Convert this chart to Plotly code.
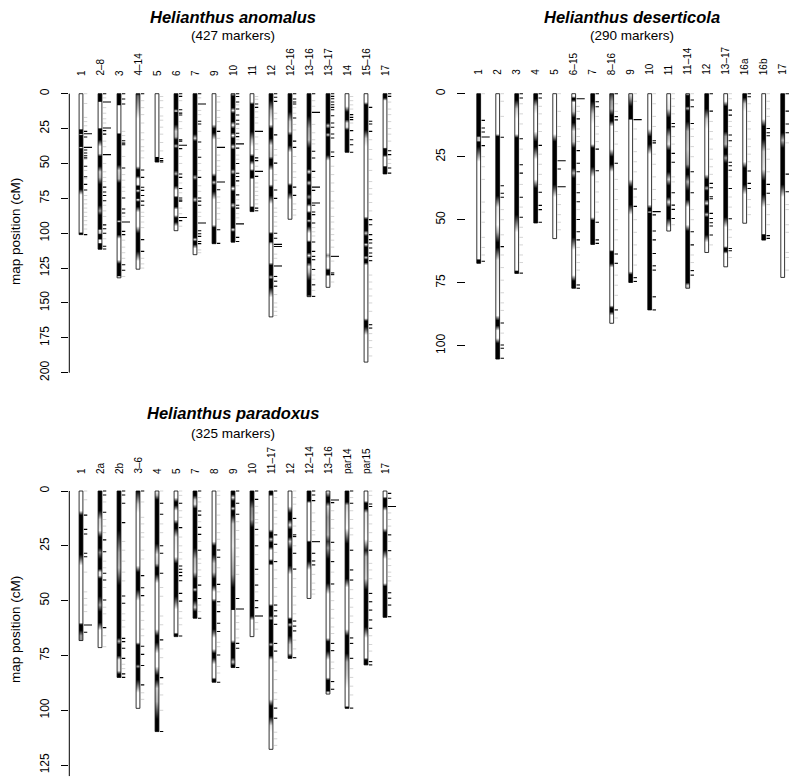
import plotly.graph_objects as go

# ================= Helianthus anomalus =================
anom_names = ["1", "2–8", "3", "4–14", "5", "6", "7", "9", "10", "11", "12", "12–16", "13–16", "13–17", "14", "15–16", "17"]
anom_lengths = [101, 111.5, 132, 125.8, 49, 98.2, 115.4, 107.5, 106.4, 84.5, 160, 90, 145.5, 138.8, 42, 192.4, 57.5]
anom_bands = [
    [[0,0],[25,0],[26,1],[28.5,1],[29.3,0.2],[30,1],[37.8,1],[38.6,0.1],[39.4,1],[68.5,1],[72.5,0],[99.3,0],[99.8,1],[101,1]],
    [[0,1],[5.5,1],[6,0],[24.5,0],[25.2,1],[33,1],[38,0],[43,0.1],[45,1],[52,1],[56,0.2],[60,0.3],[65,1],[80,1],[84,0.4],[87,1],[97,1],[98,0.1],[100,0.2],[101,1],[104,1],[105,0],[107,0],[107.5,1],[111.5,1]],
    [[0,1],[8,1],[8.6,0],[28,0],[29,1],[51,1],[55,0.2],[61,0.3],[64,1],[90.5,1],[91.5,0.1],[92.5,1],[101,1],[104,0],[119,0],[122,1],[130.5,1],[131.2,0],[132,0]],
    [[0,1],[1.5,0.6],[10,0.3],[18,0],[52,0],[54.5,1],[59,1],[61,0],[65,0],[66.5,1],[68.5,1],[69.5,0.1],[71,1],[75,1],[76,0],[77.5,1],[81,1],[85,0],[95,0],[100,1],[113,1],[120,0],[125.8,0]],
    [[0,0],[45,0],[45.5,1],[49,1]],
    [[0,1],[11,1],[12.5,0.1],[13.5,1],[22,1],[27,0.2],[31,0.3],[33,1],[36,1],[37.5,0.2],[39,1],[55,1],[57.5,0.3],[59,1],[66,1],[69,0],[73,0],[74.5,1],[81,1],[83,0],[87,0],[89,1],[92,1],[95,0],[98.2,0]],
    [[0,1],[29,1],[32,0.2],[34,1],[58,1],[60,0.3],[62,1],[74,1],[76,0.2],[78,1],[103,1],[104.5,0.2],[106,1],[108,1],[111,0],[115.4,0]],
    [[0,0],[22,0],[25,1],[28,1],[33,0],[57,0],[59.5,1],[62,1],[63.5,0.2],[65.5,1],[70,1],[76,0],[94,0],[96,1],[107.5,1]],
    [[0,0.3],[2,1],[10,1],[12,0.1],[14,1],[20,1],[22.5,0],[25,1],[28,1],[30,0],[32,1],[36,1],[38,0.1],[40,1],[54,1],[56,0.2],[58,1],[66,1],[68,0],[70,1],[78,1],[80,0.2],[82,1],[96,1],[97.5,0.1],[99,1],[106.4,1]],
    [[0,0],[6,0],[7.5,1],[27,1],[33,0.3],[38,0],[43,0],[45,1],[48,1],[51,0],[54,0],[55.5,1],[60,1],[61.5,0],[80.5,0],[81.5,1],[84.5,1]],
    [[0,1],[5,1],[12,0.3],[18,0.1],[22,0],[25,1],[32,1],[37,0.1],[45,0.2],[47,1],[51,1],[55,0],[65,0],[67,1],[73,1],[79,0],[99,0],[100.5,1],[106,1],[107.5,0.1],[109,0],[121,0],[123,1],[130,1],[131.5,0.2],[133,1],[139,1],[146,0],[160,0]],
    [[0,1],[13,1],[20,0.2],[27,0.1],[30,1],[37,1],[42,0],[64,0],[66,1],[71,1],[76,0],[90,0]],
    [[0,1],[16,1],[25,0.4],[33,0.3],[39,1],[54,1],[56,0.1],[58,1],[62,1],[64,0.2],[66,1],[72,1],[74,0.4],[76,1],[79,1],[81,0],[84,0],[85.5,1],[90,1],[91,0.2],[92.5,1],[95,1],[100,0],[105,0],[106.5,1],[114,1],[116,0.1],[118,1],[121,1],[124,0.1],[128,0.3],[134,1],[144,1],[145.5,0.5]],
    [[0,1],[21,1],[23,0.2],[25,1],[28,1],[29.5,0.2],[31,1],[44,1],[48,0],[114,0],[116,0.4],[118,0],[125,0],[126.5,1],[129.5,1],[131,0],[138.8,0]],
    [[0,0],[9,0],[13,1],[18.5,1],[21,0.1],[24,0.1],[26,1],[42,1]],
    [[0,0],[6,0],[8,1],[26,1],[32,0.2],[38,0],[88,0],[90,1],[98,1],[100,0.2],[102,1],[107,1],[108,0.1],[110,1],[116,1],[117.5,0.2],[119,1],[121,1],[123,0],[161,0],[163,1],[167,1],[173,0],[192.4,0]],
    [[0,1],[3,1],[5,0],[38.5,0],[39.5,1],[44,1],[45.5,0],[51.5,0],[52.5,1],[57.5,1]],
]
anom_marks = [
    [27,31,40.4,42.5,44.5,46,52,59.5,65,69,101],
    [0,26.5,29,67,70.5,73,76.7,94,96.8,100,109.4,111.3],
    [0,3.8,7.4,33.7,35.4,36.6,53.3,74.8,82.7,85.5,98.7,101,122.6,126.6],
    [0,54.7,60,67.1,69.3,73,77,80,104.6,113],
    [46.5,48,49],
    [0,1.9,11.5,13.9,15.3,33,34,39.4,57.6,60,68,74.8,76.2,77,91],
    [0,19.8,21.7,34.6,45.6,60,74.8,77,80,98.2,100.4,102.3,105.9,107.5],
    [27,68.8,97.5,107.3],
    [0,2,6,11,15.3,19,21.7,28.4,30.8,39,50,57,59.4,62.5,72.5,80,82,103,106],
    [7.4,9.8,46,48,59.3,82,83.9],
    [0,2.5,5.5,29.5,49.8,69,75,100,103.6,131,134.4,138],
    [0,3.8,6,7.4,17.4,34,38.5,67,72.9],
    [0,41.3,46.1,55.7,69.3,80,84.8,86.7,92.7,106.3,113,116.6,119,126,137,145.3],
    [0,1.9,3.6,6,7.9,9.8,11.5,15.8,21,24.1,28.9,31.8,41.8,45,128.5,129.7],
    [15,17,18.6,26.5,33,36.6,42],
    [9.8,19.8,21.7,27,90.3,93.9,101,104.6,107,110.6,114.2,116.6,119.7,165.6,168],
    [0,1.9,40.9,43.7,53.3,56.9],
]
anom_long = [
    [28.7,38.5], [6,24.6,43.7], [92], [], [], [37,88.7], [7.4,92.7], [38.5,63.3], [36,93.3], [27,55.7],
    [108,109.5,123.5], [], [13.4,67,78.4], [116.6], [], [], [],
]
anom_faint = [
    [0,7,17,20,23,47,55,61,73,76,79,82,85,88,91,94,97],
    [3,10,14,18,21,34,38,50,56,60,63,80,84,88,104],
    [27,30,45,58,62,67,70,88,105,110,114,118,131],
    [5,10,15,21,28,33,38,41,46,85,88,92,96,118,122,125],
    [2,5,10,16,19,24,29,35,41],
    [5,20,25,45,50,64,71,82,86,95],
    [3,12,15,27,40,50,55,66,70,85,88,112,114],
    [2,6,12,17,20,32,44,48,52,55,74,78,82,86,90],
    [8,25,33,44,47,66,76,86,89],
    [2,4,13,17,21,31,36,40,52,64,67,70,73,76,79],
    [14,18,40,44,58,62,82,85,88,92,95,115,118,144,150,153,156,159],
    [10,14,22,26,45,50,56,60,79,83,87],
    [5,9,22,28,33,36,60,96,99,102,130,133,141],
    [52,58,64,70,77,82,88,92,97,101,105,110,120,135],
    [2,5,8,11,21],
    [33,40,47,55,63,68,72,78,84,130,135,140,145,150,156,172,177,182,188],
    [6,11,15,20,25,29,34,47,50],
]

# ================= Helianthus deserticola =================
des_names = ["1", "2", "3", "4", "5", "6–15", "7", "8–16", "9", "10", "11", "11–14", "12", "13–17", "16a", "16b", "17"]
des_lengths = [67.3, 105.3, 71.3, 51.3, 57.5, 77.2, 59.8, 91.1, 74.9, 85.8, 54.5, 77.2, 63, 68.7, 51.4, 58.1, 72.9]
des_bands = [
    [[0,1],[16.8,1],[17.4,0.2],[18.6,0.2],[19.2,1],[21,1],[27,0],[65.5,0],[66,1],[67.3,1]],
    [[0,0],[16,0],[17,1],[40.5,1],[45,0.1],[52,0],[55,0.3],[59,1],[61,1],[66,0.1],[88,0],[90,1],[92,1],[94,0],[97,0],[99,1],[105.3,1]],
    [[0,1],[2.5,1],[6,0.2],[10,0],[16,0],[17.5,1],[48,1],[55,0],[70,0],[70.5,1],[71.3,1]],
    [[0,1],[2,1],[5,0.2],[8,0],[15,0],[19,1],[21,1],[26,0],[34,0],[37.5,1],[51.3,1]],
    [[0,0],[16,0],[19,1],[36,1],[41,0],[57.5,0]],
    [[0,0],[1,0],[1.8,1],[2.5,1],[3.5,0],[7,0.2],[9.5,1],[11.5,1],[15,0.1],[19,0.2],[21.5,1],[29.5,1],[31.5,0.3],[33.5,1],[57,1],[62,0],[72,0],[74.3,1],[77.2,1]],
    [[0,1],[3,1],[8,0.2],[12,0],[20,0],[21.5,1],[29,1],[33,0],[49,0],[50.3,1],[59.8,1]],
    [[0,0.8],[3,0.4],[6,0.3],[8.5,1],[10.8,1],[13,0],[22,0],[25,1],[28,1],[31,0],[62,0],[62.7,1],[67.3,1],[69,0],[84,0],[85,1],[86.5,1],[88,0],[91.1,0]],
    [[0,0.1],[2,0.4],[5,1],[10,1],[10.5,0],[34,0],[37,1],[44,1],[48,0],[70.5,0],[71.8,1],[74.9,1]],
    [[0,0],[14,0],[17,1],[20,1],[24,0],[44,0],[45.5,1],[46.5,1],[47,0.2],[47.5,1],[85.8,1]],
    [[0,0],[6,0.1],[9.5,1],[13.5,1],[17,0.3],[20,0.1],[22.5,1],[31,1],[34,0.2],[36.5,1],[41,1],[43,0.1],[45,1],[49.5,1],[53,0],[54.5,0]],
    [[0,0],[0.8,1],[5,1],[5.8,0.3],[6.8,1],[11,1],[15,0.3],[22,0.2],[28,0.4],[30,1],[32,1],[35,0.3],[38.5,1],[42,1],[45,0],[52,0],[54.5,1],[75,1],[76,0.2],[77.2,0.2]],
    [[0,1],[6,1],[10,0.2],[14,0],[32,0],[34,1],[36.5,1],[37.5,0.3],[38.5,1],[42,1],[43.5,0.1],[44.5,1],[47,1],[48,0.2],[49,1],[56,1],[59,0],[63,0]],
    [[0,0],[3,0],[5,1],[15,1],[17,0.4],[20,0.3],[22,1],[24,1],[25.5,0.4],[27.5,1],[49,1],[53,0],[60.5,0],[61.3,1],[62.5,1],[63.5,0],[68.7,0]],
    [[0,1],[1.5,1],[4,0.2],[7,0],[27,0],[29.5,1],[36,1],[40,0],[51.4,0]],
    [[0,0],[10,0],[13,1],[18,1],[23,0.2],[30,0.1],[34.5,1],[40,1],[45,0],[55.5,0],[56,1],[58.1,1]],
    [[0,1],[15.5,1],[18.5,0.3],[21.5,1],[36,1],[41,0],[72.9,0]],
]
des_marks = [
    [10.6,13.6,15.2,20.6,66.5],
    [17.3,36.5,39.5,41.1,60.7,91,99.7,101,105],
    [0,1.7,17.9,28.2,31.5,41.1,49,71.2],
    [0,1.7,20.5,39.1,44.3,46,51],
    [29.9],
    [10,22.6,27.6,31,39.3,42.9,49.9,54.8,58,75.9,77.2],
    [0,3.2,5.2,22,30.6,51,58,59.4],
    [0,9.1,10.4,27.6,63.6,67.3,85.8],
    [37.8,44.7,73,74.5],
    [18.7,19.5,48.1,54.5,58,63.4,68.3,70,80.6,85.8],
    [11.8,13.1,23.7,27.2,39.3,44.2,45.9,49.5],
    [2.5,5.2,11.8,31,39.3,54.8,60,70.2,72],
    [0,6.9,35.6,37.3,40.9,41.7,47.5,49.5,51.2,52.5,56.1],
    [6.5,8.5,16.4,18.7,27.2,28.6,30.4,37.6,49.6,61.4,62.3],
    [0,1.2,30.7,35.6,37.6],
    [13.8,15.5,16.7,36,39.5,56.3,57.4],
    [0,6.9,12,15.5,31.9,38.9],
]
des_long = [[17.2], [], [], [], [26.6,36.9], [2], [], [], [10.3], [46.8], [], [], [], [], [], [], []]
des_faint = [
    [0,25,29,34,43,47,51,57,61,64],
    [0,3,9,46,50,56,64,69,74,79,83,86,95],
    [4,8,12,22,36,45,53,57,60,64,67],
    [5,8,12,15,24,28,32,36],
    [0,7,13,17,21,40,44,48,51,54],
    [5,7,14,17,19,36,46,61,64,67,70],
    [9,13,16,19,35,39,43,47],
    [4,7,15,20,34,38,42,46,50,54,58,72,76,80,89],
    [0,3,14,18,23,27,31,41,50,55,60,64,68],
    [0,4,9,13,24,28,33,38,42],
    [0,2,5,8,17,20,33,35,52],
    [0,14,17,21,25,35,46,50,64,67],
    [11,15,18,22,26,29,32,60],
    [0,2,11,13,21,24,33,41,45,54,57,65],
    [4,7,11,14,18,21,24,27,42,45,48],
    [0,3,6,9,22,26,31,44,48,52],
    [19.5,44,46,52,55,63,65,70],
]

# ================= Helianthus paradoxus =================
par_names = ["1", "2a", "2b", "3–6", "4", "5", "7", "8", "9", "10", "11–17", "12", "12–14", "13–16", "par14", "par15", "17"]
par_lengths = [68.2, 71.4, 85, 99.1, 109.7, 66.4, 58, 87.2, 80.5, 66.4, 117.8, 76.3, 49, 92.6, 99.1, 79.3, 57.6]
par_bands = [
    [[0,0],[9,0],[11,1],[29,1],[34,0],[60,0],[61,1],[63.5,1],[66,0.4],[68.2,0.4]],
    [[0,1],[9,1],[13,0.2],[18,0.1],[21,1],[26,1],[28,0.5],[31,1],[35.5,1],[37,0.1],[38.5,0.1],[40,1],[48,1],[52,0.4],[55,1],[60,1],[63.5,0],[71.4,0]],
    [[0,1],[18,1],[28,0.4],[35,0.3],[43,1],[67,1],[68.5,0.3],[70,1],[75,1],[77,0.1],[82,0.1],[83.5,1],[85,1]],
    [[0,1],[1.5,0.8],[6,0.2],[10,0],[34,0],[37,1],[45,1],[50,0],[69,0],[70.2,1],[79,1],[80,0.4],[81,1],[86,1],[92,0],[99.1,0]],
    [[0,0],[2,0.3],[4,1],[24,1],[29,0.1],[33,0.2],[35,1],[38,1],[42,0],[63,0],[66,1],[69,1],[74,0],[80,0],[84,1],[86,1],[90,0.2],[96,0.3],[104,1],[109.7,1]],
    [[0,0],[3,0],[5,1],[6.5,1],[9,0],[13,0],[15,1],[17,1],[21,0.1],[30,0],[33,1],[48,1],[54,0],[64.5,0],[65.3,1],[66.4,1]],
    [[0,1],[2,1],[4,0.2],[6,0.1],[8,1],[26,1],[31,0.3],[37,0.2],[40,1],[44,1],[45,0.2],[46,1],[50,1],[53,0.2],[55,1],[58,1]],
    [[0,0],[23,0],[25,1],[29,1],[33,0.2],[37,0.2],[40,1],[43,1],[46,0],[49,0],[50.5,1],[63,1],[67,0],[72,0],[74,1],[76,1],[79,0],[85,0],[86,1],[87.2,1]],
    [[0,1],[1.5,1],[3,0.1],[4.5,1],[7,1],[8,0.2],[9,1],[11,1],[15,0.2],[25,0.1],[38,0.4],[44,1],[54,1],[54.5,0],[68,0],[69.5,1],[76,1],[78,0.2],[79.5,1],[80.5,1]],
    [[0,1],[4,1],[8,0.5],[13,0.4],[16.5,1],[57,1],[59,0],[66.4,0]],
    [[0,1],[1.5,1],[2.5,0],[17.5,0],[19,1],[21,1],[22,0.2],[23.5,1],[25.5,1],[27,0],[31,0],[32,1],[33,1],[34,0],[51.5,0],[52.5,1],[57,1],[58,0.2],[59,1],[69,1],[70,0.3],[71,1],[75,1],[77,0],[95,0],[98,1],[103,1],[107,0.1],[110,0],[117.8,0]],
    [[0,0],[7,0],[10,1],[13,1],[15.5,0.1],[17.5,1],[21,1],[23,0.2],[26.5,1],[34,1],[38,0],[57.5,0],[58.5,1],[60,1],[61,0.2],[62,1],[66,1],[70,0.2],[74,0.1],[75.5,1],[76.3,1]],
    [[0,1],[4.5,1],[5.5,0],[22.5,0],[23.3,1],[32,1],[36,0],[49,0]],
    [[0,0],[1,0.3],[3,1],[5,1],[7,0.2],[12,0.4],[20,0.3],[23,0.8],[26,0.4],[31,1],[42,1],[47,0],[67,0],[68.7,1],[73,1],[77,0],[85,0],[86.3,1],[91,1],[92,0],[92.6,0]],
    [[0,1],[5,1],[6.5,0.2],[10,0.1],[17,0],[24,1],[40,1],[44,0],[63,0],[66,1],[74,1],[78,0.3],[84,0.2],[90,0],[98,0],[98.6,1],[99.1,1]],
    [[0,0],[4.5,0],[5.5,1],[8,1],[10,0.1],[22,0],[27,0.9],[30,0.3],[40,0.2],[45,1],[62,1],[67,0],[76,0],[77,1],[79.3,1]],
    [[0,0],[2.5,0],[3.5,1],[7,1],[9,0],[17,0],[19,1],[27,1],[31,0],[42,0],[43.5,1],[57.6,1]],
]
par_marks = [
    [11,17.5,19.6,28.4,30,64.4],
    [0,1.8,9.7,22.3,27.7,37.5,40.6,49.7,62.3],
    [0,1.8,5.6,14.4,47.9,51.2,67.2,68.7,71.7,76.3,83.4,85],
    [0,38.6,44.1,47.7,70.8,74.5,79.6,88.4],
    [5.6,10.6,25,28.4,37.5,67.9,85.1,109.7],
    [5.6,16.7,34.2,35.7,37.1,38.6,40.9,46.7,50.2,66.1],
    [0,9.1,11,16.6,19.8,27,42.9,49,58],
    [26.9,30.2,42.6,50.5,55,60.3,64.1,74.8,87.2],
    [0,5.6,10.6,49,69.5,71.7,80.5],
    [0,3.8,17.5,25,35.7,42.9,50,53.2],
    [0,20,24.3,32.2,52,54.6,57,60.8,69.5,73,99,103.6],
    [12.5,20,20.8,28.4,35.6,59.3,61.6,63.8,76],
    [0,1.8,4.4,28.4,31.9,33.7],
    [5.3,23.4,32.2,42.4,69.5,72.8,86.9,90.4],
    [0,5.6,27,36,40.6,67,69.5,76.3,99],
    [5.9,7.1,27,46.7,50.5,54.3,58.8,62.6,77.8,79.3],
    [1.1,3.3,20,27.2,46.4,48.9,52,57.3],
]
par_long = [[61.1], [], [], [], [], [], [], [], [53.8], [57], [], [], [23.1], [4.1], [], [], [7.1]]
par_faint = [
    [0,4,37,46,49,52,55],
    [5,13,16,19,32,35,44,53,56,66,71],
    [23,27,32,37,41,56,59,62,79,81],
    [5,12,15,19,21,27,31,52,55,59,63,66,92,95],
    [0,15,19,44,48,57,61,72,76,88,93,100],
    [0,2,9,12,21,25,28,31,55,58,61],
    [3,5,14,23,31,33,36,39,52,55],
    [0,2,6,11,15,19,22,35,46,52,69,71,80,83],
    [14,18,22,26,30,34,38,57,60,63,67],
    [7,10,13,14.5,20,29,38,46,60,63],
    [3,6,9,12,15,28,36,40,44,48,78,82,86,92,95,110,113,116],
    [0,3,6,16,25,40,44,48,52,56,68,72],
    [10,14,18,20,38,42,45,47],
    [9,13,17,27,37,46,50,54,58,62,65,78,81],
    [3,9,13,17,20,45,49,53,57,60,81,85,89,93],
    [0,2,11,15,19,23,33,36,40,66,70,73],
    [10,13,16,23,31,34,37,39,41],
]

panel_titles = ["Helianthus anomalus", "Helianthus deserticola", "Helianthus paradoxus"]
panel_counts = ["(427 markers)", "(290 markers)", "(325 markers)"]
anom_ticks = [0, 25, 50, 75, 100, 125, 150, 175, 200]
des_ticks = [0, 25, 50, 75, 100]
par_ticks = [0, 25, 50, 75, 100, 125]

# ---------------- drawing ----------------
OFF = 8                      # page body margin of the browser
W, H = 800 - OFF, 783 - OFF  # figure size so that it fits the 800x783 window
FONT = "Liberation Sans, Arial, Helvetica, sans-serif"
BW = 0.1        # half bar width (x units)
GAP = 0.05
SHORT = 0.18
LONG = 0.43


def fx(p):  # window pixel -> paper x
    return (p - OFF) / W


def fy(p):  # window pixel -> paper y
    return 1 - (p - OFF) / H


def grey(v):
    g = int(round(255 * (1 - v)))
    return f"rgb({g},{g},{g})"


def colorscale(knots, L):
    cs = []
    prev = 0.0
    for p, v in knots:
        f = min(max(p / L, 0.0), 1.0)
        f = max(f, prev)
        cs.append([f, grey(v)])
        prev = f
    cs[0][0] = 0.0
    cs[-1][0] = 1.0
    return cs


fig = go.Figure()


def tick_trace(lists, x0off, x1off, color, width, xa, ya):
    xs, ys = [], []
    for i, pos in enumerate(lists):
        for p in pos:
            xs += [i + x0off, i + x1off, None]
            ys += [p, p, None]
    return go.Scatter(x=xs, y=ys, mode="lines", line=dict(color=color, width=width),
                      xaxis=xa, yaxis=ya, hoverinfo="skip", showlegend=False)


def add_panel(names, lengths, bands, marks, longs, faint, xa, ya):
    fig.add_trace(tick_trace(faint, BW + GAP, BW + GAP + SHORT, "#d4d4d4", 1, xa, ya))
    for i, (L, kn) in enumerate(zip(lengths, bands)):
        fig.add_trace(go.Scatter(
            x=[i - BW, i + BW, i + BW, i - BW, i - BW], y=[0, 0, L, L, 0],
            mode="lines", fill="toself",
            fillgradient=dict(type="vertical", colorscale=colorscale(kn, L), start=0, stop=L),
            line=dict(color="black", width=0.8),
            xaxis=xa, yaxis=ya, hoverinfo="skip", showlegend=False))
    fig.add_trace(tick_trace(marks, BW + GAP, BW + GAP + SHORT, "black", 1.1, xa, ya))
    fig.add_trace(tick_trace(longs, BW + GAP, BW + GAP + LONG, "black", 1.1, xa, ya))


add_panel(anom_names, anom_lengths, anom_bands, anom_marks, anom_long, anom_faint, "x", "y")
add_panel(des_names, des_lengths, des_bands, des_marks, des_long, des_faint, "x2", "y2")
add_panel(par_names, par_lengths, par_bands, par_marks, par_long, par_faint, "x3", "y3")


def xdom(left_px, right_px, first_px):
    return [fx(left_px), fx(right_px)], [(left_px - first_px) / 19.0, (right_px - first_px) / 19.0]


def ydom(top_px, bot_px, zero_px, scale):
    return [fy(bot_px), fy(top_px)], [(bot_px - zero_px) / scale, (top_px - zero_px) / scale]


x1d, x1r = xdom(69.3, 400, 81)
x2d, x2r = xdom(466.3, 800, 478.7)
x3d, x3r = xdom(69.3, 400, 81)
y1d, y1r = ydom(80, 390, 93.7, 1.395)
y2d, y2r = ydom(80, 390, 93.7, 2.52)
y3d, y3r = ydom(478, 783, 491, 2.193)

xcommon = dict(visible=False, showgrid=False, zeroline=False, fixedrange=True)
ycommon = dict(showgrid=False, zeroline=False, showline=False, ticks="outside", tickwidth=1,
               tickcolor="black", tickangle=-90, ticklabelstandoff=8,
               tickfont=dict(size=12, family=FONT, color="black"))

fig.update_layout(
    width=W, height=H, margin=dict(l=0, r=0, t=0, b=0),
    plot_bgcolor="white", paper_bgcolor="white", showlegend=False,
    xaxis=dict(domain=x1d, range=x1r, anchor="y", **xcommon),
    xaxis2=dict(domain=x2d, range=x2r, anchor="y2", **xcommon),
    xaxis3=dict(domain=x3d, range=x3r, anchor="x3".replace("x", "y"), **xcommon),
    yaxis=dict(domain=y1d, range=y1r, anchor="x", tickvals=anom_ticks, ticklen=7, **ycommon),
    yaxis2=dict(domain=y2d, range=y2r, anchor="x2", tickvals=des_ticks, ticklen=8, **ycommon),
    yaxis3=dict(domain=y3d, range=y3r, anchor="x3", tickvals=par_ticks, ticklen=7, **ycommon),
)

# axis lines (only spanning the tick range)
fig.add_shape(type="line", xref="x domain", yref="y", x0=0, x1=0, y0=anom_ticks[0], y1=anom_ticks[-1],
              line=dict(color="black", width=1))
fig.add_shape(type="line", xref="x3 domain", yref="y3", x0=0, x1=0, y0=par_ticks[0], y1=130,
              line=dict(color="black", width=1))

ann = []
# titles
for title, count, cx, ty, cy in [(panel_titles[0], panel_counts[0], 233, 17.4, 35.5),
                                 (panel_titles[1], panel_counts[1], 631.5, 17.4, 35.5),
                                 (panel_titles[2], panel_counts[2], 233, 413, 433.5)]:
    ann.append(dict(text=f"<b><i>{title}</i></b>", x=fx(cx), y=fy(ty), xref="paper", yref="paper",
                    showarrow=False, xanchor="center", yanchor="middle",
                    font=dict(size=16.5, family=FONT, color="black")))
    ann.append(dict(text=count, x=fx(cx), y=fy(cy), xref="paper", yref="paper",
                    showarrow=False, xanchor="center", yanchor="middle",
                    font=dict(size=13.5, family=FONT, color="black")))

# y-axis titles
for yc in (232, 630):
    ann.append(dict(text="map position (cM)", x=fx(15), y=fy(yc), xref="paper", yref="paper",
                    textangle=-90, showarrow=False, xanchor="center", yanchor="middle",
                    font=dict(size=13.5, family=FONT, color="black")))

# chromosome labels
for names, xa, base in [(anom_names, "x", 78), (des_names, "x2", 77), (par_names, "x3", 476)]:
    for i, nm in enumerate(names):
        ann.append(dict(text=nm, x=i, y=fy(base), xref=xa, yref="paper", textangle=-90,
                        showarrow=False, xanchor="center", yanchor="bottom",
                        font=dict(size=10, family=FONT, color="black")))

fig.update_layout(annotations=ann)
fig.write_html("out.html")
